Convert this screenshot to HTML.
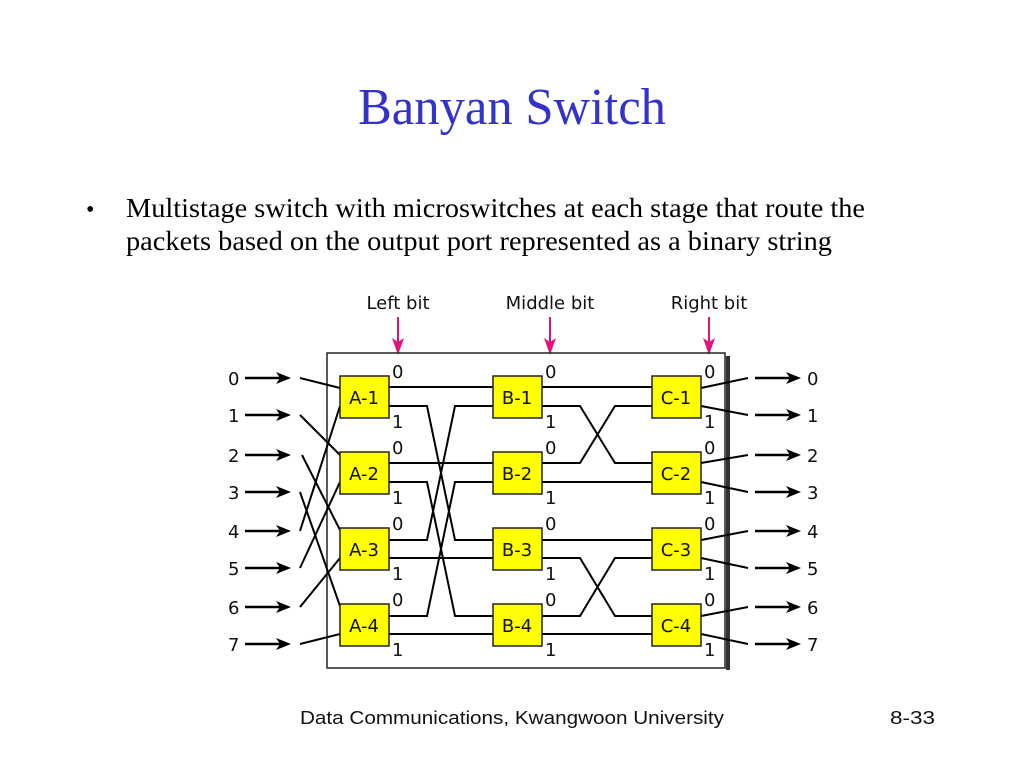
<!DOCTYPE html>
<html><head><meta charset="utf-8"><style>
html,body{margin:0;padding:0;background:#fff;}
svg{display:block;}
.s{font-family:"DejaVu Sans","Liberation Sans",sans-serif;font-size:18px;fill:#111;}
</style></head><body>
<svg width="1024" height="768" viewBox="0 0 1024 768" xmlns="http://www.w3.org/2000/svg">
<text x="512" y="124" text-anchor="middle" font-family="Liberation Serif,serif" font-size="52" fill="#3333cc" textLength="308" lengthAdjust="spacingAndGlyphs">Banyan Switch</text>
<text x="86" y="217" font-family="Liberation Serif,serif" font-size="24" fill="#000">•</text>
<text x="126" y="217" font-family="Liberation Serif,serif" font-size="27" fill="#000" textLength="739" lengthAdjust="spacingAndGlyphs">Multistage switch with microswitches at each stage that route the</text>
<text x="126" y="250" font-family="Liberation Serif,serif" font-size="27" fill="#000" textLength="706" lengthAdjust="spacingAndGlyphs">packets based on the output port represented as a binary string</text>

<text class="s" x="398" y="309" text-anchor="middle">Left bit</text>
<text class="s" x="550" y="309" text-anchor="middle">Middle bit</text>
<text class="s" x="709" y="309" text-anchor="middle">Right bit</text>
<g stroke="#e0157a" stroke-width="2">
<line x1="398" y1="317" x2="398" y2="345"/>
<line x1="550" y1="317" x2="550" y2="345"/>
<line x1="709" y1="317" x2="709" y2="345"/>
</g>
<g fill="#e0157a">
<path d="M392,338 L398,355 L404,338 L398,342 z"/>
<path d="M544,338 L550,355 L556,338 L550,342 z"/>
<path d="M703,338 L709,355 L715,338 L709,342 z"/>
</g>

<rect x="726" y="356" width="4" height="314" fill="#333"/>
<rect x="327" y="353" width="398" height="315" fill="none" stroke="#222" stroke-width="1.5"/>

<g stroke="#000" stroke-width="2" fill="none">
<line x1="300" y1="378" x2="340" y2="388"/>
<line x1="300" y1="415" x2="340" y2="455"/>
<line x1="302" y1="455" x2="340" y2="530"/>
<line x1="300" y1="492" x2="340" y2="606"/>
<line x1="300" y1="531" x2="340" y2="406"/>
<line x1="300" y1="568" x2="340" y2="482"/>
<line x1="300" y1="607" x2="340" y2="558"/>
<line x1="300" y1="644" x2="340" y2="634"/>
<polyline points="389,387 493,387"/>
<polyline points="389,406 427,406 455,540 493,540"/>
<polyline points="389,463 493,463"/>
<polyline points="389,482 427,482 455,616 493,616"/>
<polyline points="389,540 427,540 455,406 493,406"/>
<polyline points="389,558 493,558"/>
<polyline points="389,616 427,616 455,482 493,482"/>
<polyline points="389,634 493,634"/>
<polyline points="542,387 652,387"/>
<polyline points="542,406 580,406 615,463 652,463"/>
<polyline points="542,463 580,463 615,406 652,406"/>
<polyline points="542,482 652,482"/>
<polyline points="542,540 652,540"/>
<polyline points="542,558 580,558 615,616 652,616"/>
<polyline points="542,616 580,616 615,558 652,558"/>
<polyline points="542,634 652,634"/>
<line x1="701" y1="388" x2="748" y2="378"/>
<line x1="701" y1="406" x2="748" y2="415"/>
<line x1="701" y1="463" x2="748" y2="455"/>
<line x1="701" y1="482" x2="748" y2="492"/>
<line x1="701" y1="540" x2="748" y2="531"/>
<line x1="701" y1="558" x2="748" y2="568"/>
<line x1="701" y1="616" x2="748" y2="607"/>
<line x1="701" y1="634" x2="748" y2="644"/>
</g>
<g id="arr">
<g stroke="#000" stroke-width="2.5">
<line x1="245" y1="378" x2="282" y2="378"/><line x1="245" y1="415" x2="282" y2="415"/>
<line x1="245" y1="455" x2="282" y2="455"/><line x1="245" y1="492" x2="282" y2="492"/>
<line x1="245" y1="531" x2="282" y2="531"/><line x1="245" y1="568" x2="282" y2="568"/>
<line x1="245" y1="607" x2="282" y2="607"/><line x1="245" y1="644" x2="282" y2="644"/>
<line x1="755" y1="378" x2="792" y2="378"/><line x1="755" y1="415" x2="792" y2="415"/>
<line x1="755" y1="455" x2="792" y2="455"/><line x1="755" y1="492" x2="792" y2="492"/>
<line x1="755" y1="531" x2="792" y2="531"/><line x1="755" y1="568" x2="792" y2="568"/>
<line x1="755" y1="607" x2="792" y2="607"/><line x1="755" y1="644" x2="792" y2="644"/>
</g>
<g fill="#000">
<path d="M276,372 L291,378 L276,384 L280,378 z"/><path d="M276,409 L291,415 L276,421 L280,415 z"/>
<path d="M276,449 L291,455 L276,461 L280,455 z"/><path d="M276,486 L291,492 L276,498 L280,492 z"/>
<path d="M276,525 L291,531 L276,537 L280,531 z"/><path d="M276,562 L291,568 L276,574 L280,568 z"/>
<path d="M276,601 L291,607 L276,613 L280,607 z"/><path d="M276,638 L291,644 L276,650 L280,644 z"/>
<path d="M786,372 L801,378 L786,384 L790,378 z"/><path d="M786,409 L801,415 L786,421 L790,415 z"/>
<path d="M786,449 L801,455 L786,461 L790,455 z"/><path d="M786,486 L801,492 L786,498 L790,492 z"/>
<path d="M786,525 L801,531 L786,537 L790,531 z"/><path d="M786,562 L801,568 L786,574 L790,568 z"/>
<path d="M786,601 L801,607 L786,613 L790,607 z"/><path d="M786,638 L801,644 L786,650 L790,644 z"/>
</g>
</g>
<g class="s">
<text x="228" y="385">0</text><text x="228" y="422">1</text><text x="228" y="462">2</text><text x="228" y="499">3</text>
<text x="228" y="538">4</text><text x="228" y="575">5</text><text x="228" y="614">6</text><text x="228" y="651">7</text>
<text x="807" y="385">0</text><text x="807" y="422">1</text><text x="807" y="462">2</text><text x="807" y="499">3</text>
<text x="807" y="538">4</text><text x="807" y="575">5</text><text x="807" y="614">6</text><text x="807" y="651">7</text>
</g>
<g fill="#ffff00" stroke="#222" stroke-width="1.5">
<rect x="340" y="376" width="49" height="42"/><rect x="340" y="452" width="49" height="42"/><rect x="340" y="528" width="49" height="42"/><rect x="340" y="604" width="49" height="42"/>
<rect x="493" y="376" width="49" height="42"/><rect x="493" y="452" width="49" height="42"/><rect x="493" y="528" width="49" height="42"/><rect x="493" y="604" width="49" height="42"/>
<rect x="652" y="376" width="49" height="42"/><rect x="652" y="452" width="49" height="42"/><rect x="652" y="528" width="49" height="42"/><rect x="652" y="604" width="49" height="42"/>
</g>
<g class="s" text-anchor="middle">
<text x="364" y="404">A-1</text><text x="364" y="480">A-2</text><text x="364" y="556">A-3</text><text x="364" y="632">A-4</text>
<text x="517" y="404">B-1</text><text x="517" y="480">B-2</text><text x="517" y="556">B-3</text><text x="517" y="632">B-4</text>
<text x="676" y="404">C-1</text><text x="676" y="480">C-2</text><text x="676" y="556">C-3</text><text x="676" y="632">C-4</text>
</g>
<g class="s">
<text x="392" y="378">0</text><text x="392" y="428">1</text><text x="392" y="454">0</text><text x="392" y="504">1</text>
<text x="392" y="530">0</text><text x="392" y="580">1</text><text x="392" y="606">0</text><text x="392" y="656">1</text>
<text x="545" y="378">0</text><text x="545" y="428">1</text><text x="545" y="454">0</text><text x="545" y="504">1</text>
<text x="545" y="530">0</text><text x="545" y="580">1</text><text x="545" y="606">0</text><text x="545" y="656">1</text>
<text x="704" y="378">0</text><text x="704" y="428">1</text><text x="704" y="454">0</text><text x="704" y="504">1</text>
<text x="704" y="530">0</text><text x="704" y="580">1</text><text x="704" y="606">0</text><text x="704" y="656">1</text>
</g>
<text x="300" y="724" font-family="Liberation Sans,sans-serif" font-size="18" fill="#111" textLength="424" lengthAdjust="spacingAndGlyphs">Data Communications, Kwangwoon University</text>
<text x="890" y="724" font-family="Liberation Sans,sans-serif" font-size="18" fill="#111" textLength="45" lengthAdjust="spacingAndGlyphs">8-33</text>
</svg>
</body></html>
